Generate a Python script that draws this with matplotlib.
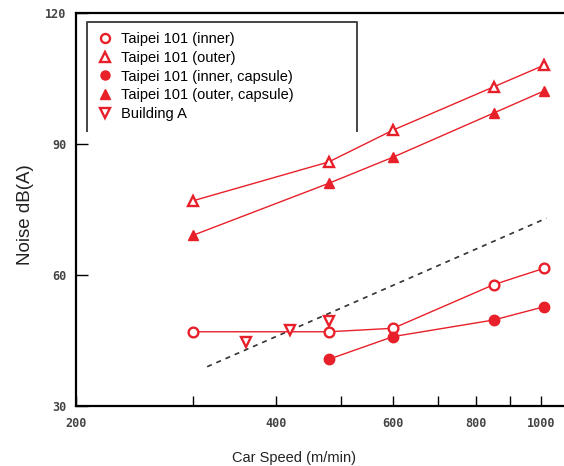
import matplotlib
matplotlib.use('Agg')
import matplotlib.pyplot as plt
from matplotlib.lines import Line2D
from matplotlib.transforms import IdentityTransform
from matplotlib.ticker import FixedLocator, NullFormatter

# car speed (m/min) and noise dB(A)
speed = [300, 480, 600, 850, 1010]
outer = [77.0, 85.9, 93.2, 103.1, 108.0]
outer_capsule = [69.1, 81.0, 87.0, 97.1, 102.1]
inner = [47.0, 47.0, 47.8, 57.8, 61.5]

speed_capsule = [480, 600, 850, 1010]
inner_capsule = [40.7, 45.9, 49.7, 52.7]

speed_bldg_a = [360, 420, 480]
bldg_a = [44.7, 47.5, 49.5]

trend_x = [315, 1020]
trend_y = [39.0, 73.0]

x_ticks = [200, 400, 600, 800, 1000]
x_minor = [300, 500, 700, 900]
y_ticks = [30, 60, 90, 120]

red = '#E8202A'
plt.rcParams['font.family'] = ['Liberation Sans', 'DejaVu Sans']

fig = plt.figure(figsize=(5.64, 4.66), dpi=100)
ax = fig.add_axes([76 / 564, 1 - 406 / 466, 488 / 564, 393 / 466])

ax.plot(trend_x, trend_y, color='#333333', lw=1.2, ls=(0, (3, 3)))
ax.plot(speed, inner, color=red, lw=1, marker='o', ms=7, mfc='white',
        mec=red, mew=1.7, label='Taipei 101 (inner)')
ax.plot(speed, outer, color=red, lw=1, marker='^', ms=7, mfc='white',
        mec=red, mew=1.7, label='Taipei 101 (outer)')
ax.plot(speed_capsule, inner_capsule, color=red, lw=1, marker='o', ms=7.5,
        mfc=red, mec=red, label='Taipei 101 (inner, capsule)')
ax.plot(speed, outer_capsule, color=red, lw=1, marker='^', ms=7.5,
        mfc=red, mec=red, label='Taipei 101 (outer, capsule)')
ax.plot(speed_bldg_a, bldg_a, ls='none', marker='v', ms=7, mfc='white',
        mec=red, mew=1.7, label='Building A')

ax.set_xscale('log')
ax.set_xlim(200, 1084)
ax.set_ylim(30, 120)

ax.xaxis.set_major_locator(FixedLocator(x_ticks))
ax.xaxis.set_minor_locator(FixedLocator(x_minor))
ax.xaxis.set_minor_formatter(NullFormatter())
ax.set_xticklabels([str(v) for v in x_ticks])
ax.yaxis.set_major_locator(FixedLocator(y_ticks))
ax.yaxis.set_minor_locator(FixedLocator([]))

for lab in ax.get_xticklabels() + ax.get_yticklabels():
    lab.set_fontfamily('DejaVu Sans Mono')
    lab.set_fontweight('bold')
    lab.set_fontsize(8.5)
    lab.set_color('#444444')

ax.tick_params(axis='x', which='both', direction='in', length=7.5, width=1,
               pad=8, top=False)
ax.tick_params(axis='y', which='both', direction='in', length=8.5, width=1,
               pad=7, right=False)

for side in ['left', 'bottom', 'top']:
    ax.spines[side].set_linewidth(1.6)
ax.spines['right'].set_visible(False)

fig.text(26 / 564, 1 - 215 / 466, 'Noise dB(A)', rotation=90, fontsize=13.5,
         ha='center', va='center', color='#222222')
fig.text(294 / 564, 1 - 458 / 466, 'Car Speed (m/min)', fontsize=10.5,
         ha='center', va='center', color='#222222')

leg = ax.legend(loc='upper left', bbox_to_anchor=(11 / 488, 1 - 9 / 393, 270 / 488, 0),
                mode='expand', borderaxespad=0, fontsize=10.5, handlelength=1.0,
                handletextpad=0.6, labelspacing=0.32, borderpad=0.7,
                fancybox=False, frameon=True)
for h in leg.legend_handles:
    h.set_linestyle('none')
    h.set_markersize(6.5)

# the legend box in the original is open at the bottom
fig.canvas.draw()
bb = leg.get_frame().get_window_extent()
leg.get_frame().set_visible(False)
fig.add_artist(Line2D([bb.x0, bb.x0, bb.x1, bb.x1], [bb.y0, bb.y1, bb.y1, bb.y0],
                      transform=IdentityTransform(), color='#444444', lw=1.4))

fig.savefig('out.png', dpi=100)
